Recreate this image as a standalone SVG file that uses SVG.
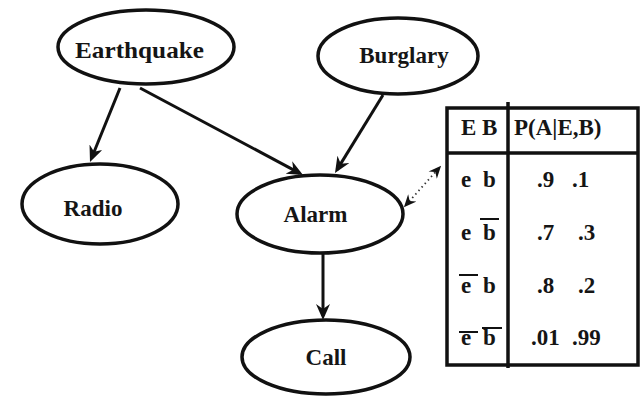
<svg xmlns="http://www.w3.org/2000/svg" width="641" height="400" viewBox="0 0 641 400" font-family="'Liberation Serif', 'Times New Roman', serif" font-weight="bold">
<style>
.node ellipse{fill:#fff;stroke:#111;stroke-width:3.5}
.lbl{font-size:23px;fill:#151515;text-anchor:middle}
.t{font-size:23px;fill:#151515}
.edge{stroke:#111;stroke-width:3;fill:none}
.dot{stroke:#333;stroke-width:1.8;stroke-dasharray:1.5 3.2;fill:none}
.tb{stroke:#111;stroke-width:3.5;fill:none}
.ov{stroke:#111;stroke-width:2}
</style>
<defs>
<marker id="ah" viewBox="0 0 16 14" refX="12" refY="7" markerWidth="16" markerHeight="14" markerUnits="userSpaceOnUse" orient="auto-start-reverse">
<path d="M0,0 L16,7 L0,14 L5,7 z" fill="#111"/>
</marker>
<marker id="ah2" viewBox="0 0 16 14" refX="12" refY="7" markerWidth="13" markerHeight="11" markerUnits="userSpaceOnUse" orient="auto-start-reverse">
<path d="M0,0 L16,7 L0,14 L5,7 z" fill="#111"/>
</marker>
</defs>
<g id="connectors">
<line class="edge" x1="120" y1="88" x2="91.5" y2="158.3" marker-end="url(#ah)"/>
<line class="edge" x1="140" y1="88" x2="299.5" y2="173.1" marker-end="url(#ah)"/>
<line class="edge" x1="383" y1="95" x2="337.1" y2="169.6" marker-end="url(#ah)"/>
<line class="edge" x1="323" y1="253" x2="323" y2="316" marker-end="url(#ah)"/>
<line class="dot" x1="406" y1="205" x2="439" y2="168" marker-start="url(#ah2)" marker-end="url(#ah2)"/>
</g>
<g id="earthquake" class="node"><ellipse cx="146" cy="47" rx="88" ry="37"/><text class="lbl" x="139.5" y="58" font-size="24.5" textLength="129" lengthAdjust="spacingAndGlyphs">Earthquake</text></g>
<g id="burglary" class="node"><ellipse cx="398" cy="56" rx="80" ry="38"/><text class="lbl" x="404" y="63">Burglary</text></g>
<g id="radio" class="node"><ellipse cx="100" cy="204" rx="78" ry="40"/><text class="lbl" x="93" y="216">Radio</text></g>
<g id="alarm" class="node"><ellipse cx="320" cy="214" rx="83" ry="39"/><text class="lbl" x="315.5" y="222">Alarm</text></g>
<g id="call" class="node"><ellipse cx="326" cy="357" rx="84" ry="37"/><text class="lbl" x="326" y="365">Call</text></g>
<g id="cpt-table">
<rect class="tb" x="447" y="108" width="191" height="257"/>
<line class="tb" x1="447" y1="153" x2="638" y2="153"/>
<line class="tb" x1="508" y1="102" x2="508" y2="368"/>
<text class="t" x="461" y="135">E B</text>
<text class="t" x="514" y="135">P(A|E,B)</text>
<text class="t" x="461" y="187">e</text><text class="t" x="483" y="187">b</text>
<text class="t" x="537" y="187">.9</text><text class="t" x="572" y="187">.1</text>
<text class="t" x="461" y="240">e</text><text class="t" x="483" y="240">b</text>
<line class="ov" x1="480" y1="219" x2="499" y2="219"/>
<text class="t" x="537" y="240">.7</text><text class="t" x="578" y="240">.3</text>
<text class="t" x="461" y="293">e</text><text class="t" x="483" y="293">b</text>
<line class="ov" x1="459" y1="275" x2="478" y2="275"/>
<text class="t" x="537" y="293">.8</text><text class="t" x="578" y="293">.2</text>
<text class="t" x="461" y="345">e</text><text class="t" x="483" y="345">b</text>
<line class="ov" x1="459" y1="332" x2="478" y2="332"/>
<line class="ov" x1="482" y1="328" x2="502" y2="328"/>
<text class="t" x="531" y="345">.01</text><text class="t" x="572" y="345">.99</text>
</g>
</svg>
